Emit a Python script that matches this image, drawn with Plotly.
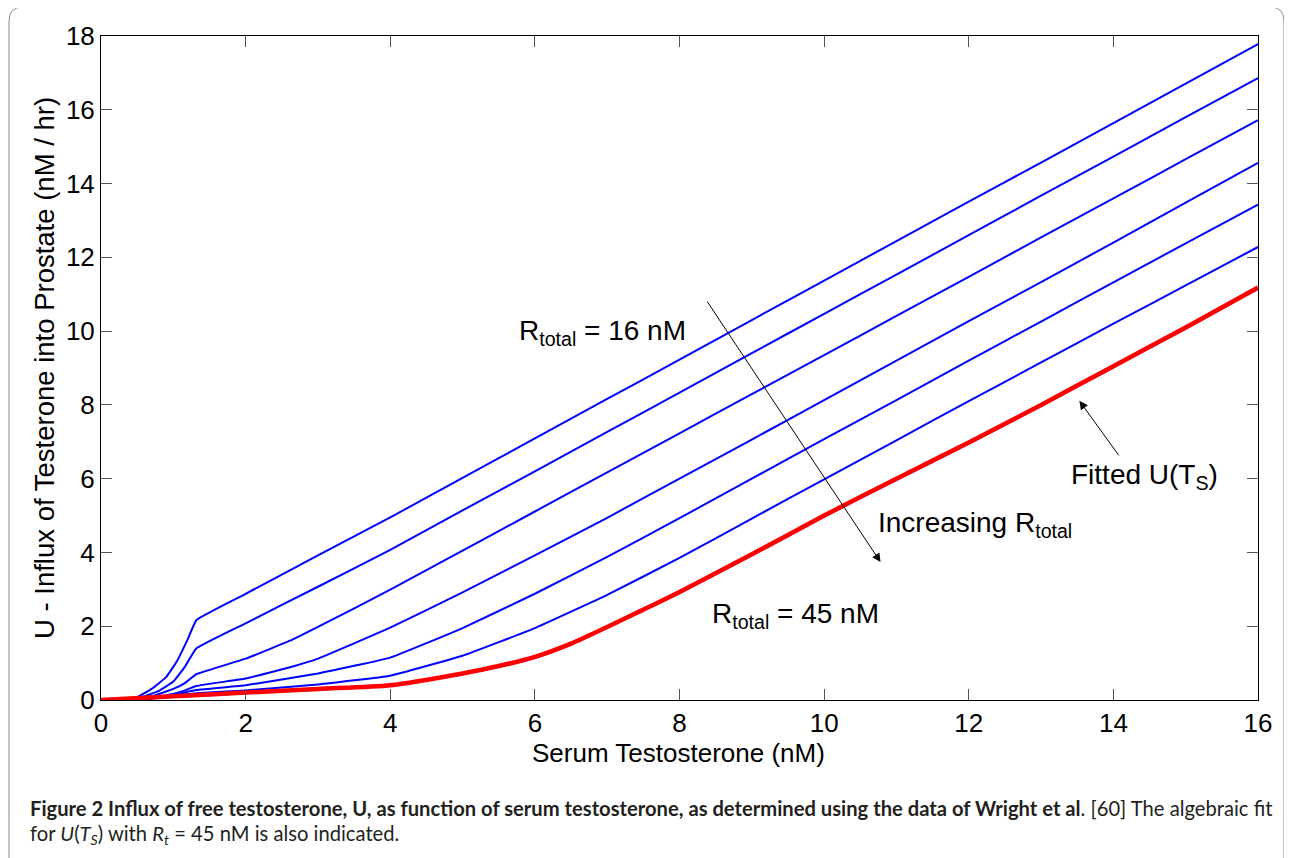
import plotly.graph_objects as go

# ---------------- data ----------------
ts_top = [0.3, 0.5, 0.7, 0.9, 1.05, 1.2, 1.32, 2, 3, 4, 5, 6, 7, 8, 9, 10, 11, 12, 13, 14, 15, 16]
u_r1 = [0.0, 0.08, 0.3, 0.62, 1.05, 1.65, 2.17, 2.88, 3.92, 4.95, 6.02, 7.09, 8.16, 9.23, 10.3, 11.37, 12.44, 13.51, 14.57, 15.64, 16.71, 17.78]

ts_r2 = [0.35, 0.6, 0.8, 1.0, 1.16, 1.32, 2, 3, 4, 5, 6, 7, 8, 9, 10, 11, 12, 13, 14, 15, 16]
u_r2 = [0.0, 0.1, 0.25, 0.5, 0.9, 1.40, 2.08, 3.07, 4.07, 5.14, 6.2, 7.27, 8.33, 9.4, 10.47, 11.53, 12.6, 13.67, 14.73, 15.8, 16.86]

ts_r3 = [0.35, 0.7, 1.0, 1.16, 1.32, 2, 2.64, 3, 4, 5, 6, 7, 8, 9, 10, 11, 12, 13, 14, 15, 16]
u_r3 = [0.0, 0.1, 0.3, 0.46, 0.70, 1.12, 1.63, 1.98, 2.99, 4.05, 5.11, 6.17, 7.23, 8.29, 9.35, 10.41, 11.47, 12.54, 13.60, 14.66, 15.72]

ts_r4 = [0.35, 0.8, 1.1, 1.32, 2, 2.64, 3, 4, 5, 6, 7, 8, 9, 10, 11, 12, 13, 14, 15, 16]
u_r4 = [0.0, 0.08, 0.22, 0.38, 0.58, 0.90, 1.12, 1.96, 2.92, 3.92, 4.94, 6.0, 7.06, 8.13, 9.2, 10.27, 11.33, 12.4, 13.48, 14.56]

ts_r5 = [0.35, 0.8, 1.32, 2, 3, 4, 5, 6, 7, 8, 9, 10, 11, 12, 13, 14, 15, 16]
u_r5 = [0.0, 0.06, 0.27, 0.40, 0.72, 1.15, 1.95, 2.88, 3.88, 4.93, 6.0, 7.07, 8.13, 9.2, 10.26, 11.32, 12.38, 13.43]

ts_r6 = [0.35, 1.32, 2, 3, 4, 5, 6, 7, 8, 9, 10, 11, 12, 13, 14, 15, 16]
u_r6 = [0.0, 0.18, 0.26, 0.42, 0.66, 1.2, 1.95, 2.85, 3.85, 4.92, 5.98, 7.04, 8.1, 9.15, 10.2, 11.24, 12.28]

ts_r7 = [0.35, 1, 2, 3, 4, 5, 5.5, 6, 6.5, 7, 7.5, 8, 9, 10, 11, 12, 13, 14, 15, 16]
u_r7 = [0.0, 0.08, 0.18, 0.28, 0.38, 0.70, 0.90, 1.14, 1.5, 1.98, 2.43, 2.9, 3.92, 4.97, 5.97, 6.95, 7.97, 9.02, 10.07, 11.15]

ts_fit = [0, 1, 2, 3, 4, 5, 5.5, 6, 6.5, 7, 7.5, 8, 9, 10, 11, 12, 13, 14, 15, 16]
u_fit = [0.0, 0.1, 0.2, 0.3, 0.4, 0.72, 0.92, 1.17, 1.53, 1.98, 2.45, 2.93, 3.95, 5.0, 6.0, 6.98, 8.0, 9.05, 10.1, 11.18]

x_ticks = [0, 2, 4, 6, 8, 10, 12, 14, 16]
y_ticks = [0, 2, 4, 6, 8, 10, 12, 14, 16, 18]

x_title = "Serum Testosterone (nM)"
y_title = "U - Influx of Testerone into Prostate (nM / hr)"

blue_series = [(ts_top, u_r1), (ts_r2, u_r2), (ts_r3, u_r3), (ts_r4, u_r4),
               (ts_r5, u_r5), (ts_r6, u_r6), (ts_r7, u_r7)]

# ---------------- layout geometry (page pixels) ----------------
OFF = 8                       # default body margin of the html page
W, H = 1292 - OFF, 858 - OFF  # figure size
L, R, T, B = 101, 1258, 36, 700  # plot-area edges in page pixels


def px(xp):
    return (xp - L) / (R - L)


def py(yp):
    return (B - yp) / (B - T)


fig = go.Figure()
for xs, ys in blue_series:
    fig.add_trace(go.Scatter(x=xs, y=ys, mode="lines",
                             line=dict(color="#0000ff", width=2, shape="spline", smoothing=0.3),
                             showlegend=False, hoverinfo="skip"))
fig.add_trace(go.Scatter(x=ts_fit, y=u_fit, mode="lines",
                         line=dict(color="#ff0000", width=4.5, shape="spline", smoothing=0.7),
                         showlegend=False, hoverinfo="skip"))

FONT = "Liberation Sans, Arial, sans-serif"
axis_common = dict(showline=True, linecolor="black", linewidth=1, mirror="ticks",
                   ticks="inside", ticklen=11, tickcolor="#555555", tickwidth=1,
                   showgrid=False, zeroline=False, automargin=False,
                   tickfont=dict(family=FONT, size=26, color="black"))

fig.update_xaxes(range=[0, 16], tickvals=x_ticks, ticktext=[str(v) for v in x_ticks],
                 **axis_common)
fig.update_yaxes(range=[0, 18], tickvals=y_ticks, ticktext=[str(v) for v in y_ticks],
                 **axis_common)

ann_font = dict(family=FONT, size=28, color="black")
cap_font = dict(family="Lato, sans-serif", size=20.2, color="#231f20")
annotations = [
    # axis titles
    dict(x=px(678), y=py(753), xref="paper", yref="paper", text=x_title, showarrow=False,
         font=dict(family=FONT, size=26, color="black"), xanchor="center", yanchor="middle"),
    dict(x=px(44), y=py(368), xref="paper", yref="paper", text=y_title, showarrow=False,
         textangle=-90, font=dict(family=FONT, size=27.5, color="black"),
         xanchor="center", yanchor="middle"),
    # text labels
    dict(x=6.94, y=9.95, xref="x", yref="y", text="R<sub>total</sub> = 16 nM",
         showarrow=False, font=ann_font, xanchor="center", yanchor="middle"),
    dict(x=8.42, y=2.3, xref="x", yref="y", text="R<sub>total</sub> = 45 nM",
         showarrow=False, font=ann_font, xanchor="left", yanchor="middle"),
    dict(x=10.72, y=4.75, xref="x", yref="y", text="Increasing R<sub>total</sub>",
         showarrow=False, font=ann_font, xanchor="left", yanchor="middle"),
    dict(x=13.38, y=6.05, xref="x", yref="y", text="Fitted U(T<sub>S</sub>)",
         showarrow=False, font=ann_font, xanchor="left", yanchor="middle"),
    # arrows
    dict(x=10.78, y=3.74, ax=8.37, ay=10.84, xref="x", yref="y", axref="x", ayref="y",
         text="", showarrow=True, arrowhead=2, arrowsize=1.7, arrowwidth=1, arrowcolor="black"),
    dict(x=13.53, y=8.11, ax=14.09, ay=6.59, xref="x", yref="y", axref="x", ayref="y",
         text="", showarrow=True, arrowhead=2, arrowsize=1.7, arrowwidth=1, arrowcolor="black"),
    # caption
    dict(x=px(28), y=py(808), xref="paper", yref="paper", xanchor="left", yanchor="middle",
         showarrow=False, align="left",
         text="<b>Figure 2 Influx of free testosterone, U, as function of serum testosterone, "
              "as determined using the data of Wright et al</b>. [60] The algebraic fit",
         font=cap_font),
    dict(x=px(28), y=py(834), xref="paper", yref="paper", xanchor="left", yanchor="middle",
         showarrow=False, align="left",
         text="for <i>U</i>(<i>T<sub>S</sub></i>) with <i>R<sub>t</sub></i> = 45 nM is also indicated.",
         font=cap_font),
]

# rounded page border
x0, y0, x1 = px(9), py(7), px(1284)
rx = 14 / (R - L)
ry = 14 / (B - T)
yb = py(900)
path = (f"M {x0},{yb} L {x0},{y0 - ry} Q {x0},{y0} {x0 + rx},{y0} "
        f"L {x1 - rx},{y0} Q {x1},{y0} {x1},{y0 - ry} L {x1},{yb}")

fig.update_layout(
    width=W, height=H,
    margin=dict(l=L - OFF, r=(W + OFF) - R, t=T - OFF, b=(H + OFF) - B),
    paper_bgcolor="white", plot_bgcolor="white",
    annotations=annotations,
    shapes=[dict(type="path", path=path, xref="paper", yref="paper",
                 line=dict(color="#8a8a8a", width=1), layer="below")],
)

fig.write_html("out.html")
